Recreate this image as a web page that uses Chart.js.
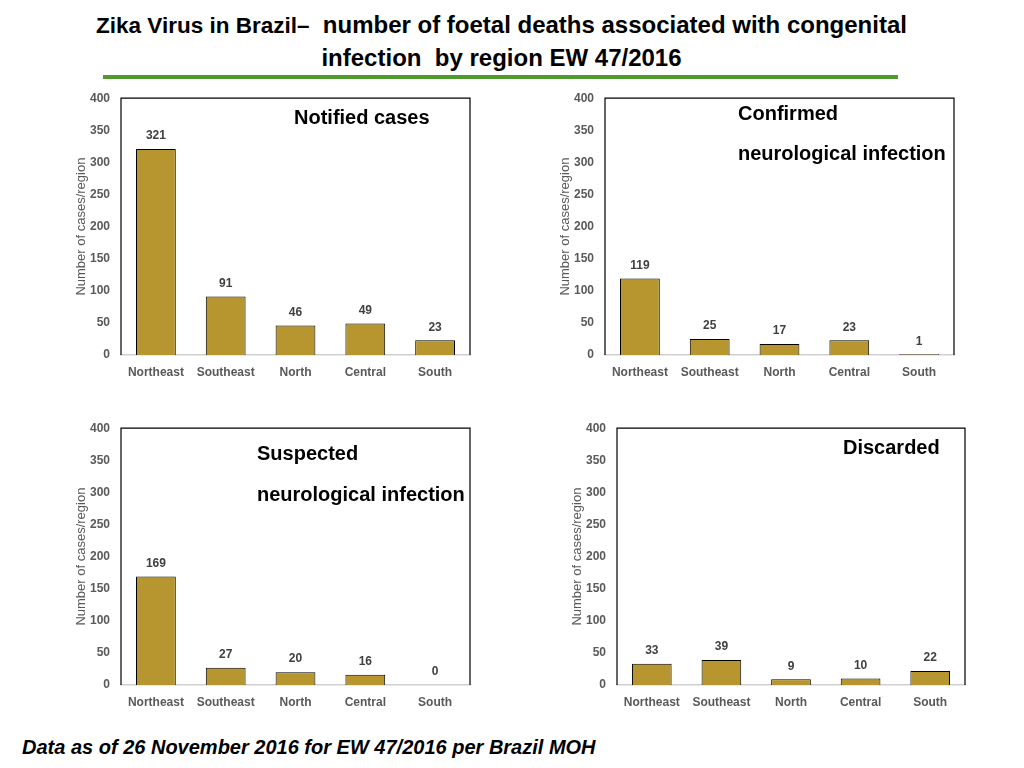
<!DOCTYPE html>
<html>
<head>
<meta charset="utf-8">
<script src="https://cdn.jsdelivr.net/npm/chart.js@4.4.0/dist/chart.umd.min.js"></script>
<style>
  body { margin: 0; width: 1024px; height: 768px; background: #fff; position: relative; overflow: hidden; font-family: "Liberation Sans", Arial, sans-serif; }
  .abs { position: absolute; }
  #title { left: 0; width: 1003px; top: 9px; text-align: center; font-weight: bold; font-size: 24px; line-height: 32px; color: #000; white-space: nowrap; }
  #title .lead { font-size: 22.5px; }
  #rule { left: 103px; top: 75px; width: 795px; height: 4px; background: #4f9a2c; }
  .lbl { font-weight: bold; font-size: 20px; color: #000; white-space: nowrap; line-height: 22px; }
  #foot { left: 22px; top: 736px; font-weight: bold; font-style: italic; font-size: 20px; color: #000; white-space: nowrap; }
  canvas { position: absolute; }
</style>
</head>
<body>
<div id="title" class="abs"><span class="lead">Zika Virus in Brazil–</span>&nbsp; number of foetal deaths associated with congenital<br>infection&nbsp; by region EW 47/2016</div>
<div id="rule" class="abs"></div>

<canvas id="c1"></canvas>
<canvas id="c2"></canvas>
<canvas id="c3"></canvas>
<canvas id="c4"></canvas>

<div class="abs lbl" style="left:294px; top:106px;">Notified cases</div>
<div class="abs lbl" style="left:738px; top:102px;">Confirmed</div>
<div class="abs lbl" style="left:738px; top:142px;">neurological infection</div>
<div class="abs lbl" style="left:257px; top:442px;">Suspected</div>
<div class="abs lbl" style="left:257px; top:483px;">neurological infection</div>
<div class="abs lbl" style="left:843px; top:436px;">Discarded</div>

<div id="foot" class="abs">Data as of 26 November 2016 for EW 47/2016 per Brazil MOH</div>

<script>
const regions = ["Northeast", "Southeast", "North", "Central", "South"];
const notified = [321, 91, 46, 49, 23];
const confirmed = [119, 25, 17, 23, 1];
const suspected = [169, 27, 20, 16, 0];
const discarded = [33, 39, 9, 10, 22];
const yTicks = [0, 50, 100, 150, 200, 250, 300, 350, 400];

const barColor = "#b8962f";
const tickColor = "#595959";

// value labels above bars
const valueLabels = {
  id: "valueLabels",
  afterDatasetsDraw(chart) {
    const ctx = chart.ctx;
    const meta = chart.getDatasetMeta(0);
    ctx.save();
    ctx.font = "bold 12px 'Liberation Sans', Arial, sans-serif";
    ctx.fillStyle = "#404040";
    ctx.textAlign = "center";
    ctx.textBaseline = "middle";
    meta.data.forEach((bar, i) => {
      const p = bar.getProps(["x", "y"], true);
      ctx.fillText(chart.data.datasets[0].data[i], p.x, p.y - 13);
    });
    ctx.restore();
  },
};

// black frame on top, left and right of plot area
const frame = {
  id: "frame",
  afterDraw(chart) {
    const a = chart.chartArea;
    const ctx = chart.ctx;
    ctx.save();
    ctx.strokeStyle = "#000";
    ctx.lineWidth = 1.2;
    ctx.beginPath();
    ctx.moveTo(a.left, a.bottom);
    ctx.lineTo(a.left, a.top);
    ctx.lineTo(a.right, a.top);
    ctx.lineTo(a.right, a.bottom);
    ctx.stroke();
    ctx.restore();
  },
};

function makeChart(id, values, box) {
  // the top tick label pushes the plot down ~17px by itself
  const yW = 61, xH = 35, topOff = 17, padRight = 10;
  const el = document.getElementById(id);
  const w = box.right - box.left + yW + padRight;
  const h = box.bottom - box.top + topOff + xH;
  el.style.left = (box.left - yW) + "px";
  el.style.top = (box.top - topOff) + "px";
  el.style.width = w + "px";
  el.style.height = h + "px";
  el.width = w;
  el.height = h;
  return new Chart(el, {
    type: "bar",
    data: {
      labels: regions,
      datasets: [
        {
          data: values,
          backgroundColor: barColor,
          borderColor: "#000",
          borderWidth: 1,
          barPercentage: 0.57,
          categoryPercentage: 1,
        },
      ],
    },
    options: {
      responsive: false,
      animation: false,
      layout: { padding: { top: 0, right: padRight, left: 0, bottom: 0 } },
      scales: {
        x: {
          grid: { display: false, drawTicks: false },
          border: { display: true, color: "#d0d0d0", width: 1.5 },
          ticks: { color: tickColor, font: { size: 12, weight: "bold", family: "'Liberation Sans', Arial" }, padding: 10 },
          afterFit(scale) { scale.height = xH; },
        },
        y: {
          min: 0,
          max: 400,
          grid: { display: false, drawTicks: false },
          border: { display: false },
          afterBuildTicks(scale) { scale.ticks = yTicks.map((v) => ({ value: v })); },
          ticks: { color: tickColor, font: { size: 12, weight: "bold", family: "'Liberation Sans', Arial" }, padding: 11 },
          title: {
            display: true,
            text: "Number of cases/region",
            color: tickColor,
            font: { size: 13, family: "'Liberation Sans', Arial" },
            padding: { top: 14, bottom: 0 },
          },
          afterFit(scale) { scale.width = yW; },
        },
      },
      plugins: { legend: { display: false }, tooltip: { enabled: false } },
    },
    plugins: [valueLabels, frame],
  });
}

makeChart("c1", notified, { left: 121, right: 470, top: 97, bottom: 355 });
makeChart("c2", confirmed, { left: 605, right: 954, top: 97, bottom: 355 });
makeChart("c3", suspected, { left: 121, right: 470, top: 427, bottom: 685 });
makeChart("c4", discarded, { left: 617, right: 965, top: 427, bottom: 685 });
</script>
</body>
</html>
